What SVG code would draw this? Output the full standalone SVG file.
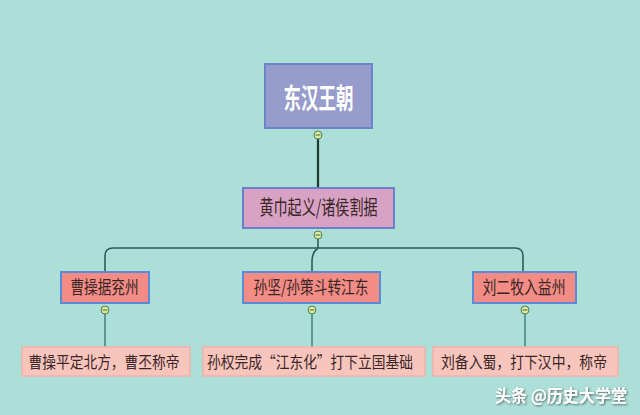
<svg xmlns="http://www.w3.org/2000/svg" width="640" height="415" viewBox="0 0 640 415">
<defs>
<style>
.bg{fill:#abdfd8}
.root rect{fill:#969ccb;stroke:#6c83c9;stroke-width:2}
.root text{fill:#ffffff;font-family:"Noto Sans CJK SC","Noto Sans",sans-serif;font-weight:bold;font-size:28px;text-anchor:middle}
.l2 rect{fill:#d8a2c4;stroke:#6b80cc;stroke-width:2}
.l3 rect{fill:#f28c84;stroke:#5b8ad8;stroke-width:2}
.leaf rect{fill:#f8c5bd;stroke:#f2b2a8;stroke-width:1.5}
.t{fill:#3a2626;font-family:"Noto Sans CJK SC","Noto Sans",sans-serif;font-size:16px;text-anchor:middle}
.c{fill:#d8ec9c;stroke:#5a7a5a;stroke-width:1}
.cm{stroke:#4a6a4a;stroke-width:1}
.conn path{fill:none}
.wm{fill:#ffffff;font-family:"Noto Sans CJK SC","Noto Sans",sans-serif;font-size:17px;font-weight:bold}
</style>
<filter id="sh" x="-10%" y="-30%" width="120%" height="160%"><feDropShadow dx="1" dy="1" stdDeviation="0.8" flood-color="#333" flood-opacity="0.7"/></filter>
</defs>
<rect class="bg" x="0" y="0" width="640" height="415"/>
<g id="connectors" class="conn">
<path d="M318 139 V188" stroke="#1f3a30" stroke-width="2.2"/>
<path d="M318 239 V248 M105 272 V256 Q105 248 113 248 H515 Q523 248 523 256 V272" stroke="#2c5f55" stroke-width="1.6"/>
<path d="M318 248 Q312 252 312 262 V272" stroke="#2c5f55" stroke-width="1.6"/>
<path d="M105 314 V347 M312 314 V347 M525 314 V347" stroke="#3f7a70" stroke-width="1.4"/>
</g>
<g id="root" class="root">
<rect x="265" y="64" width="107" height="64"/>
<text x="318.5" y="109" textLength="70" lengthAdjust="spacingAndGlyphs">东汉王朝</text>
<circle class="c" cx="318" cy="135" r="4"/><path class="cm" d="M315.5 135 H320.5"/>
</g>
<g id="n-huangjin" class="l2">
<rect x="243" y="188" width="151" height="40"/>
<text class="t" x="318.5" y="215" style="font-size:20px" textLength="118" lengthAdjust="spacingAndGlyphs">黄巾起义/诸侯割据</text>
<circle class="c" cx="318" cy="235" r="4"/><path class="cm" d="M315.5 235 H320.5"/>
</g>
<g id="n-caocao" class="l3">
<rect x="61" y="272" width="88" height="31"/>
<text class="t" x="104.5" y="294" style="font-size:18px" textLength="68" lengthAdjust="spacingAndGlyphs">曹操据兖州</text>
<circle class="c" cx="105" cy="310" r="4"/><path class="cm" d="M102.5 310 H107.5"/>
</g>
<g id="n-sun" class="l3">
<rect x="243" y="272" width="137" height="31"/>
<text class="t" x="311" y="294" style="font-size:18px" textLength="115" lengthAdjust="spacingAndGlyphs">孙坚/孙策斗转江东</text>
<circle class="c" cx="312" cy="310" r="4"/><path class="cm" d="M309.5 310 H314.5"/>
</g>
<g id="n-liu" class="l3">
<rect x="473" y="272" width="103" height="31"/>
<text class="t" x="524" y="294" style="font-size:18px" textLength="83" lengthAdjust="spacingAndGlyphs">刘二牧入益州</text>
<circle class="c" cx="525" cy="310" r="4"/><path class="cm" d="M522.5 310 H527.5"/>
</g>
<g id="leaf-caocao" class="leaf">
<rect x="22" y="347" width="168" height="29"/>
<text class="t" x="104" y="368" textLength="151" lengthAdjust="spacingAndGlyphs">曹操平定北方，曹丕称帝</text>
</g>
<g id="leaf-sun" class="leaf">
<rect x="203" y="347" width="222" height="29"/>
<text class="t" x="310" y="368" textLength="206" lengthAdjust="spacingAndGlyphs">孙权完成“江东化”打下立国基础</text>
</g>
<g id="leaf-liu" class="leaf">
<rect x="433" y="347" width="185" height="29"/>
<text class="t" x="524" y="368" textLength="166" lengthAdjust="spacingAndGlyphs">刘备入蜀，打下汉中，称帝</text>
</g>
<text class="wm" x="495" y="402" filter="url(#sh)" textLength="132" lengthAdjust="spacingAndGlyphs">头条 @历史大学堂</text>
</svg>
